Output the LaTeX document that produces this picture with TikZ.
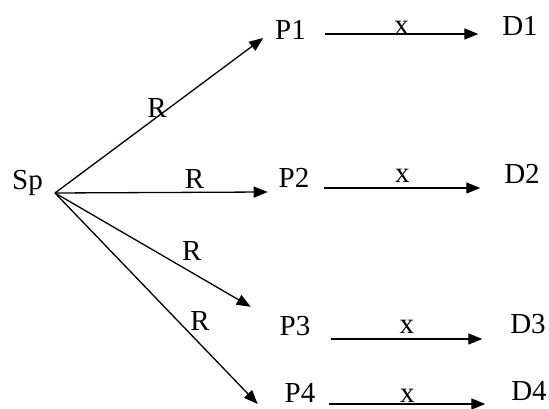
\documentclass[tikz,border=0pt]{standalone}
\usepackage{fontspec}
\setmainfont{Liberation Serif}
\usetikzlibrary{arrows.meta}
\newcommand\diagfont{\fontsize{29}{34}\selectfont}

\begin{document}
\begin{tikzpicture}[x=1pt, y=1pt, >={Triangle[length=14pt,width=11pt]},
    every node/.style={font=\diagfont, anchor=base}, line width=1.3pt]
  \useasboundingbox (0,0) rectangle (549,409);
  \node (Sp) at (27.5,219) {Sp};
  \node (P1) at (290.5,369) {P1};
  \node (P2) at (294,221) {P2};
  \node (P3) at (295,73) {P3};
  \node (P4) at (300,6) {P4};
  \node (D1) at (520,373) {D1};
  \node (D2) at (522,225) {D2};
  \node (D3) at (528,75) {D3};
  \node (D4) at (529,8) {D4};
  \coordinate (hub) at (55,216);
  % R arrows
  \draw[->] (hub) -- node[pos=0.49] {R} ([shift={(-8pt,2pt)}]P1.base west);
  \draw[->] (hub) -- node[pos=0.656, yshift=4pt] {R} ([shift={(-7pt,-4pt)}]P2.base west);
  \draw[->] (hub) -- node[pos=0.6, anchor=south west, inner sep=0pt, xshift=9pt] {R} ([shift={(-25pt,6pt)}]P3.north west);
  \draw[->] (hub) -- node[pos=0.66, anchor=south west, inner sep=1pt] {R} ([shift={(-23pt,-1pt)}]P4.base west);
  % x arrows
  \draw[->] ([shift={(15pt,6pt)}]P1.base east) -- node[midway, yshift=-1pt] {x} ([shift={(-20pt,2pt)}]D1.base west);
  \draw[->] ([shift={(11pt,0pt)}]P2.base east) -- node[midway, yshift=5pt] {x} ([shift={(-20pt,-4pt)}]D2.base west);
  \draw[->] ([shift={(17pt,-3pt)}]P3.base east) -- node[midway, yshift=5pt] {x} ([shift={(-24pt,-5pt)}]D3.base west);
  \draw[->] ([shift={(10pt,-1pt)}]P4.base east) -- node[midway, yshift=1pt] {x} ([shift={(-22pt,-3pt)}]D4.base west);
\end{tikzpicture}
\end{document}
